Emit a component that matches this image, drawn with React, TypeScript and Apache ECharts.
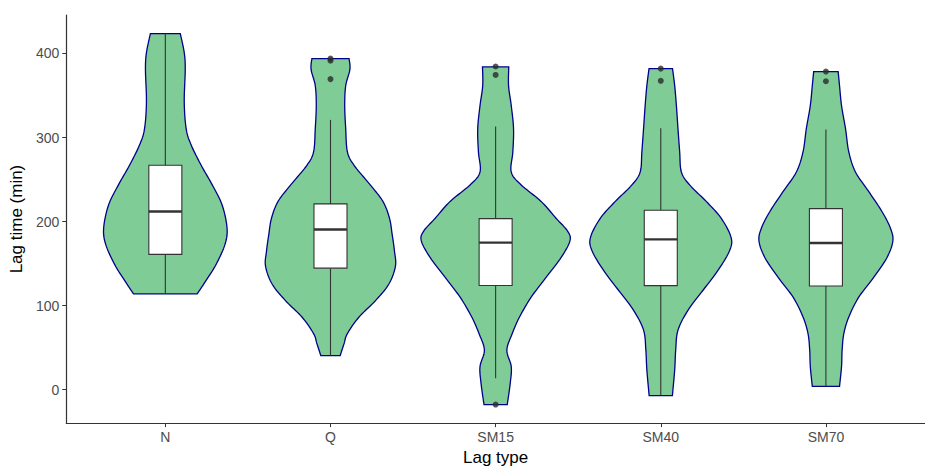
import React, { useEffect, useRef } from "react";
import * as echarts from "echarts";

// ---- data ----
const categories = ["N", "Q", "SM15", "SM40", "SM70"];

// violin outlines: [value (min), relative half-width (density)]
const nViolin = [[423.7, 15], [401, 19], [381, 20], [342, 19], [310, 21], [291, 26], [267, 36], [244, 47], [220, 57], [192.6, 62], [173, 60], [149, 51], [130, 41], [114, 32]];
const qViolin = [[394, 18.7], [381, 19.5], [361.6, 15.3], [338, 14.3], [310.5, 15.3], [283, 17], [267, 23.7], [243.6, 40], [224, 52.7], [204, 59.3], [184.7, 62], [165, 64.3], [147, 65.3], [125.7, 58.7], [106, 45.3], [86.4, 28.7], [66.7, 17], [55, 13.7], [40.4, 9.7]];
const sm15Violin = [[384, 13.2], [361.6, 13], [338, 15.7], [310.5, 18], [283, 17.3], [259, 15.7], [243.6, 25.7], [224, 45.7], [204, 60.7], [188.7, 72.3], [177, 74.7], [157, 65.7], [133.5, 50.7], [110, 35.7], [86.4, 24], [66.7, 16.7], [47, 11.3], [27.5, 15.7], [7.8, 14.7], [-17.7, 11.7]];
const sm40Violin = [[382, 11.8], [361.6, 14], [338, 15.7], [310.5, 17.3], [283, 19], [259, 20.7], [243.6, 29], [224, 45.7], [204, 60.7], [181, 70.7], [165, 69], [141.5, 57.3], [118, 42.3], [94.3, 27.3], [70.8, 17.3], [47, 15], [23.6, 14], [-7, 11.7]];
const sm70Violin = [[378.5, 12.3], [361.6, 13.7], [338, 15.7], [310.5, 19.7], [283, 23], [259, 29.7], [235.8, 43], [212, 56.3], [192.6, 64.7], [177, 67.3], [157, 61.3], [133.5, 48], [110, 33], [86.4, 23], [66.7, 18], [47, 16.3], [27.5, 15.7], [4, 13.7]];
const violinProfiles = [nViolin, qViolin, sm15Violin, sm40Violin, sm70Violin];

// box stats: [lower whisker, Q1, median, Q3, upper whisker]
const boxStats = [
  [114, 161, 212, 267, 423.7],
  [40.4, 144.6, 190.6, 221, 321],
  [13.7, 124, 175, 203.5, 313],
  [-7, 123.8, 178.8, 213.4, 311],
  [4, 123.3, 174.5, 215.4, 309.7],
];

// outliers: [category index (1-based), value]
const outliers = [
  [2, 394], [2, 391.5], [2, 369.5],
  [3, 384.5], [3, 374.5], [3, -17.7],
  [4, 382], [4, 367.5],
  [5, 378.5], [5, 367],
];

const yTicks = [0, 100, 200, 300, 400];

// ---- helpers ----
const MAX_DENSITY = 74.7;
const VIOLIN_HALF = 0.45;
const BOX_WIDTH = 0.2;

function catmull(pts: number[][], steps = 10): number[][] {
  const out: number[][] = [];
  for (let i = 0; i < pts.length - 1; i++) {
    const p0 = pts[Math.max(i - 1, 0)];
    const p1 = pts[i];
    const p2 = pts[i + 1];
    const p3 = pts[Math.min(i + 2, pts.length - 1)];
    for (let s = 0; s < steps; s++) {
      const t = s / steps, t2 = t * t, t3 = t2 * t;
      const f = (k: number) =>
        0.5 * (2 * p1[k] + (-p0[k] + p2[k]) * t + (2 * p0[k] - 5 * p1[k] + 4 * p2[k] - p3[k]) * t2 + (-p0[k] + 3 * p1[k] - 3 * p2[k] + p3[k]) * t3);
      out.push([f(0), f(1)]);
    }
  }
  out.push(pts[pts.length - 1]);
  return out;
}

export default function App() {
  const ref = useRef<HTMLDivElement>(null);
  useEffect(() => {
    if (!ref.current) return;
    const chart = echarts.init(ref.current, null, { renderer: "svg" });
    const font = "Liberation Sans, Arial, sans-serif";

    const violinSeries = {
      type: "custom",
      z: 1,
      data: categories.map((_, i) => [i + 1, 0]),
      encode: { x: 0, y: 1 },
      renderItem: (params: any, api: any) => {
        const idx = params.dataIndex;
        const prof = violinProfiles[idx];
        const cx = api.coord([api.value(0), 0])[0];
        const unit = api.size([1, 0])[0];
        const right = prof.map((p) => [cx + (p[1] / MAX_DENSITY) * VIOLIN_HALF * unit, api.coord([0, p[0]])[1]]);
        const left = prof.map((p) => [cx - (p[1] / MAX_DENSITY) * VIOLIN_HALF * unit, api.coord([0, p[0]])[1]]).reverse();
        const pts = catmull(right).concat(catmull(left));
        return {
          type: "polygon",
          shape: { points: pts },
          style: { fill: "#80CC96", stroke: "#00008B", lineWidth: 1.3 },
        };
      },
    };

    const boxSeries = {
      type: "custom",
      z: 2,
      data: categories.map((_, i) => [i + 1, boxStats[i][2]]),
      encode: { x: 0, y: 1 },
      renderItem: (params: any, api: any) => {
        const s = boxStats[params.dataIndex];
        const cx = api.coord([api.value(0), 0])[0];
        const unit = api.size([1, 0])[0];
        const bw = BOX_WIDTH * unit;
        const y = (v: number) => api.coord([0, v])[1];
        const lineStyle = { stroke: "#333333", lineWidth: 1.1 };
        return {
          type: "group",
          children: [
            { type: "line", shape: { x1: cx, y1: y(s[3]), x2: cx, y2: y(s[4]) }, style: lineStyle },
            { type: "line", shape: { x1: cx, y1: y(s[0]), x2: cx, y2: y(s[1]) }, style: lineStyle },
            {
              type: "rect",
              shape: { x: cx - bw / 2, y: y(s[3]), width: bw, height: y(s[1]) - y(s[3]) },
              style: { fill: "#ffffff", stroke: "#333333", lineWidth: 1.1 },
            },
            { type: "line", shape: { x1: cx - bw / 2, y1: y(s[2]), x2: cx + bw / 2, y2: y(s[2]) }, style: { stroke: "#333333", lineWidth: 2.4 } },
          ],
        };
      },
    };

    chart.setOption({
      animation: false,
      backgroundColor: "#ffffff",
      grid: { left: 65, right: -12, top: 15, bottom: 44 },
      xAxis: {
        type: "value",
        min: 0.4,
        max: 5.6,
        name: "Lag type",
        nameLocation: "middle",
        nameGap: 25,
        nameTextStyle: { color: "#000000", fontSize: 17, fontFamily: font },
        axisLine: { show: true, onZero: false, lineStyle: { color: "#333333", width: 1.2 } },
        axisTick: { show: true, length: 4, lineStyle: { color: "#333333" }, customValues: [1, 2, 3, 4, 5] },
        axisLabel: {
          color: "#4D4D4D",
          fontSize: 14,
          fontFamily: font,
          margin: 7,
          customValues: [1, 2, 3, 4, 5],
          formatter: (v: number) => categories[Math.round(v) - 1] ?? "",
        },
        splitLine: { show: false },
      },
      yAxis: {
        type: "value",
        min: -39.8,
        max: 445.8,
        name: "Lag time (min)",
        nameLocation: "middle",
        nameGap: 38,
        nameTextStyle: { color: "#000000", fontSize: 17, fontFamily: font },
        axisLine: { show: true, onZero: false, lineStyle: { color: "#333333", width: 1.2 } },
        axisTick: { show: true, length: 4, lineStyle: { color: "#333333" }, customValues: yTicks },
        axisLabel: { color: "#4D4D4D", fontSize: 14, fontFamily: font, margin: 7, customValues: yTicks },
        splitLine: { show: false },
      },
      series: [
        violinSeries,
        boxSeries,
        {
          type: "scatter",
          z: 3,
          data: outliers,
          symbolSize: 6,
          itemStyle: { color: "#2a2a2a" },
        },
      ],
    });
    return () => chart.dispose();
  }, []);
  return <div ref={ref} style={{ width: 925, height: 471, position: "fixed", left: 0, top: 0 }} />;
}
